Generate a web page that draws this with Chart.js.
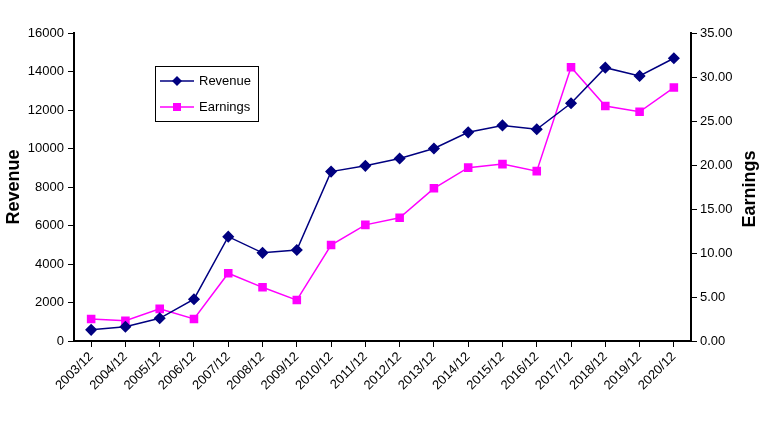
<!DOCTYPE html>
<html>
<head>
<meta charset="utf-8">
<script src="https://cdn.jsdelivr.net/npm/chart.js@4"></script>
<style>
html,body{margin:0;padding:0;background:#fff;}
#wrap{width:768px;height:432px;position:relative;}
</style>
</head>
<body>
<div id="wrap"><canvas id="c" width="768" height="432"></canvas></div>
<script>
const categories = ["2003/12","2004/12","2005/12","2006/12","2007/12","2008/12","2009/12","2010/12","2011/12","2012/12","2013/12","2014/12","2015/12","2016/12","2017/12","2018/12","2019/12","2020/12"];
const revenue = [580, 740, 1180, 2170, 5420, 4580, 4730, 8800, 9100, 9480, 10000, 10840, 11200, 11000, 12350, 14200, 13770, 14690];
const earnings = [2.5, 2.3, 3.65, 2.5, 7.7, 6.1, 4.65, 10.9, 13.2, 14.0, 17.35, 19.7, 20.1, 19.3, 31.1, 26.7, 26.05, 28.8];
const revenueTicks = [0,2000,4000,6000,8000,10000,12000,14000,16000];
const earningsTicks = [0,5,10,15,20,25,30,35];

const FONT = "'Liberation Sans', Arial, sans-serif";

const legendPlugin = {
  id: 'boxLegend',
  afterDraw(chart) {
    const ctx = chart.ctx;
    const x0 = 155, y0 = 66, w = 103, h = 55;
    ctx.save();
    ctx.fillStyle = '#fff';
    ctx.fillRect(x0, y0, w, h);
    ctx.strokeStyle = '#000';
    ctx.lineWidth = 1;
    ctx.strokeRect(x0 + 0.5, y0 + 0.5, w, h);
    const rows = [81, 107];
    chart.data.datasets.forEach((ds, i) => {
      const y = rows[i];
      ctx.strokeStyle = ds.borderColor;
      ctx.lineWidth = 1.5;
      ctx.beginPath();
      ctx.moveTo(160, y);
      ctx.lineTo(194, y);
      ctx.stroke();
      ctx.fillStyle = ds.pointBackgroundColor;
      if (ds.pointStyle === 'rectRot') {
        ctx.beginPath();
        ctx.moveTo(177, y - 5);
        ctx.lineTo(182, y);
        ctx.lineTo(177, y + 5);
        ctx.lineTo(172, y);
        ctx.closePath();
        ctx.fill();
      } else {
        ctx.fillRect(173, y - 4, 8, 8);
      }
      ctx.fillStyle = '#000';
      ctx.font = '13px ' + FONT;
      ctx.textBaseline = 'middle';
      ctx.fillText(ds.label, 199, y);
    });
    // right axis title, reading bottom-to-top
    const ca = chart.chartArea;
    ctx.save();
    ctx.translate(750, (ca.top + ca.bottom) / 2 + 2);
    ctx.rotate(-Math.PI / 2);
    ctx.fillStyle = '#000';
    ctx.font = 'bold 18px ' + FONT;
    ctx.textAlign = 'center';
    ctx.textBaseline = 'middle';
    ctx.fillText('Earnings', 0, 0);
    ctx.restore();
    ctx.restore();
  }
};

new Chart(document.getElementById('c'), {
  type: 'line',
  data: {
    labels: categories,
    datasets: [
      {
        label: 'Revenue',
        data: revenue,
        yAxisID: 'y',
        borderColor: '#000080',
        backgroundColor: '#000080',
        pointBackgroundColor: '#000080',
        pointBorderColor: '#000080',
        pointStyle: 'rectRot',
        pointRadius: 5,
        borderWidth: 1.5,
        tension: 0
      },
      {
        label: 'Earnings',
        data: earnings,
        yAxisID: 'y1',
        borderColor: '#FF00FF',
        backgroundColor: '#FF00FF',
        pointBackgroundColor: '#FF00FF',
        pointBorderColor: '#FF00FF',
        pointStyle: 'rect',
        pointRadius: 5,
        borderWidth: 1.5,
        tension: 0
      }
    ]
  },
  options: {
    responsive: false,
    animation: false,
    devicePixelRatio: 1,
    layout: { padding: { top: 33, right: 0, left: 0, bottom: 0 } },
    plugins: { legend: { display: false }, tooltip: { enabled: false } },
    scales: {
      x: {
        offset: true,
        grid: { display: true, drawOnChartArea: false, drawTicks: true, tickLength: 6, color: '#000', offset: false, lineWidth: 1 },
        border: { display: true, color: '#000', width: 2 },
        ticks: { color: '#000', font: { family: FONT, size: 13 }, minRotation: 45, maxRotation: 45, autoSkip: false, padding: 2 },
        afterFit(scale) { scale.height = 91; }
      },
      y: {
        position: 'left',
        min: 0, max: 16000,
        afterBuildTicks(scale) { scale.ticks = revenueTicks.map(v => ({ value: v })); },
        grid: { display: true, drawOnChartArea: false, drawTicks: true, tickLength: 6, color: '#000' },
        border: { display: true, color: '#000', width: 2 },
        ticks: { color: '#000', font: { family: FONT, size: 13 }, padding: 4, callback: v => String(v) },
        title: { display: true, text: 'Revenue', color: '#000', font: { family: FONT, size: 18, weight: 'bold' }, padding: { top: 3, bottom: 0 } },
        afterFit(scale) { scale.width = 74; }
      },
      y1: {
        position: 'right',
        min: 0, max: 35,
        afterBuildTicks(scale) { scale.ticks = earningsTicks.map(v => ({ value: v })); },
        grid: { display: true, drawOnChartArea: false, drawTicks: true, tickLength: 6, color: '#000' },
        border: { display: true, color: '#000', width: 2 },
        ticks: { color: '#000', font: { family: FONT, size: 13 }, padding: 3, callback: v => Number(v).toFixed(2) },
        afterFit(scale) { scale.width = 77; }
      }
    }
  },
  plugins: [legendPlugin]
});
</script>
</body>
</html>
